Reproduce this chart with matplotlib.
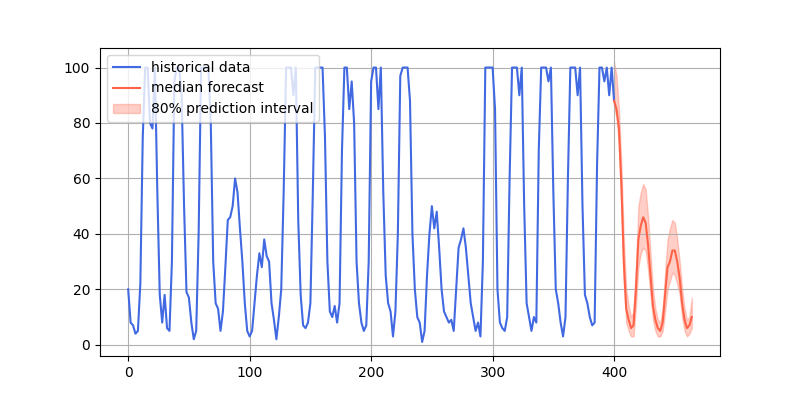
import numpy as np
import matplotlib
matplotlib.use('Agg')
import matplotlib.pyplot as plt

# values sampled every 2 steps, t = 0 .. 400
history = [
    20, 8, 7, 4, 5, 22, 75, 100, 100, 80,
    78, 100, 55, 18, 8, 18, 6, 5, 30, 95,
    100, 100, 90, 50, 19, 17, 8, 2, 5, 40,
    100, 100, 100, 100, 80, 30, 15, 13, 5, 12,
    28, 45, 46, 50, 60, 55, 42, 30, 15, 5,
    3, 5, 15, 25, 33, 28, 38, 32, 30, 15,
    9, 2, 10, 20, 55, 100, 100, 100, 90, 100,
    45, 18, 7, 6, 8, 15, 55, 100, 100, 100,
    100, 75, 30, 12, 10, 14, 8, 15, 70, 100,
    100, 85, 95, 80, 30, 15, 8, 5, 7, 30,
    95, 100, 100, 85, 100, 55, 25, 15, 12, 3,
    12, 40, 97, 100, 100, 100, 88, 40, 20, 10,
    8, 1, 5, 25, 40, 50, 42, 48, 35, 20,
    12, 10, 8, 9, 5, 20, 35, 38, 42, 35,
    25, 15, 10, 5, 8, 3, 30, 100, 100, 100,
    100, 85, 20, 8, 6, 5, 10, 60, 100, 100,
    100, 90, 100, 50, 15, 10, 5, 10, 8, 70,
    100, 100, 100, 95, 100, 55, 20, 15, 8, 3,
    10, 60, 100, 100, 100, 90, 100, 50, 18, 15,
    10, 7, 8, 65, 100, 100, 95, 100, 90, 100,
    88,
]
# forecast every 2 steps, t = 400 .. 464
median = [88, 85, 78, 58, 30, 13, 9, 6, 7, 20, 38, 43, 46, 44, 36, 25, 14,
          9, 6, 5, 8, 18, 28, 30, 34, 34, 30, 24, 15, 9, 6, 7, 10]
upper = [102, 97, 85, 65, 38, 20, 14, 10, 12, 28, 50, 55, 58, 56, 46, 33, 20,
         13, 9, 8, 13, 26, 38, 42, 45, 44, 38, 30, 20, 13, 9, 10, 17]
lower = [86, 82, 72, 50, 22, 8, 5, 3, 3, 14, 28, 33, 35, 34, 27, 18, 9,
         5, 3, 3, 5, 12, 20, 23, 26, 25, 22, 18, 10, 5, 3, 4, 6]

t_hist = np.arange(len(history)) * 2
t_fc = 400 + np.arange(len(median)) * 2

fig, ax = plt.subplots(figsize=(8, 4), dpi=100)
ax.plot(t_hist, history, color='royalblue', label='historical data')
ax.plot(t_fc, median, color='tomato', label='median forecast')
ax.fill_between(t_fc, lower, upper, color='tomato', alpha=0.3,
                label='80% prediction interval')
ax.grid(True)
ax.legend(loc='upper left')

plt.savefig('out.png')
